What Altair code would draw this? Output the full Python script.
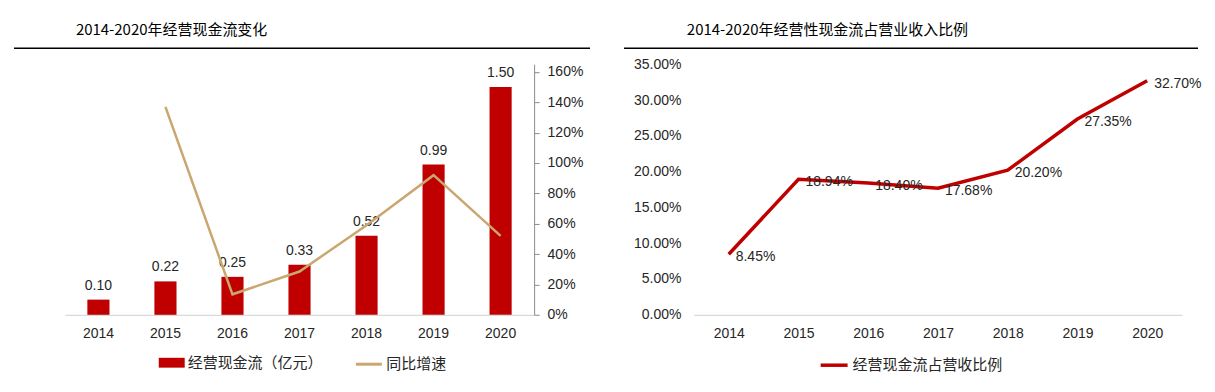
import altair as alt
import pandas as pd

# ---------------- data ----------------
years = ["2014", "2015", "2016", "2017", "2018", "2019", "2020"]
cash_flow = [0.10, 0.22, 0.25, 0.33, 0.52, 0.99, 1.50]          # 亿元
growth = [None, 1.37, 0.135, 0.285, 0.59, 0.92, 0.52]           # 同比增速
ratio = [0.0845, 0.1894, 0.1840, 0.1768, 0.2020, 0.2735, 0.3270]  # 占营收比例
left_ticks = [0.0, 0.2, 0.4, 0.6, 0.8, 1.0, 1.2, 1.4, 1.6]
growth_ticks = [0.0, 0.2, 0.4, 0.6, 0.8, 1.0, 1.2, 1.4, 1.6]
right_ticks = [0.0, 0.05, 0.10, 0.15, 0.20, 0.25, 0.30, 0.35]
bar_series = "经营现金流（亿元）"
growth_series = "同比增速"
ratio_series = "经营现金流占营收比例"
title_left = "2014-2020年经营现金流变化"
title_right = "2014-2020年经营性现金流占营业收入比例"

# ---------------- style ----------------
RED = "#C00000"
TAN = "#C9A76F"
TXT = "#262626"
FONT = "Liberation Sans, Noto Sans CJK SC, sans-serif"
CJK = "Noto Sans CJK SC, sans-serif"
LEFT_MAX = 1.6 * 251 / 243.3

left_df = pd.DataFrame({"year": years, "cash": cash_flow, "growth": growth})
left_df["s_bar"] = bar_series
left_df["s_line"] = growth_series

right_df = pd.DataFrame({"year": years, "ratio": ratio})
right_df["series"] = ratio_series

one = pd.DataFrame({"k": [0]})

x_axis = alt.Axis(title=None, labelAngle=0, ticks=False, tickSize=0, domainColor="#D9D9D9",
                  domainWidth=1.2, labelPadding=12, labelFontSize=14, labelColor=TXT, labelFont=FONT)


def legend(x, y, shape, size, stroke_width=0):
    return alt.Legend(
        title=None, orient="none", legendX=x, legendY=y, direction="horizontal",
        symbolType=shape, symbolSize=size, symbolStrokeWidth=stroke_width,
        labelFontSize=15, labelFont=CJK, labelColor=TXT, labelOffset=3,
    )


base = alt.Chart(left_df)
xl = alt.X("year:N", scale=alt.Scale(paddingInner=0.67, paddingOuter=0.335), axis=x_axis)

bars = base.mark_bar().encode(
    x=xl,
    y=alt.Y("cash:Q", scale=alt.Scale(domain=[0, LEFT_MAX], nice=False),
            axis=alt.Axis(title=None, values=left_ticks, format=".2f", grid=False, domain=False,
                          ticks=False, tickSize=0, labelPadding=13, labelFontSize=14,
                          labelColor=TXT, labelFont=FONT)),
    fill=alt.Fill("s_bar:N", scale=alt.Scale(domain=[bar_series], range=[RED]),
                  legend=legend(94, 286, "M-1,-0.38H1V0.38H-1Z", 676)),
)
bar_text = base.mark_text(baseline="bottom", dy=-7, fontSize=14, color=TXT, font=FONT).encode(
    x=xl,
    y=alt.Y("cash:Q", scale=alt.Scale(domain=[0, LEFT_MAX], nice=False), axis=None),
    text=alt.Text("cash:Q", format=".2f"),
)
line = base.mark_line(strokeWidth=2.5).encode(
    x=xl,
    y=alt.Y("growth:Q", scale=alt.Scale(domain=[0, LEFT_MAX], nice=False),
            axis=alt.Axis(title=None, orient="right", values=growth_ticks, format=".0%", grid=False,
                          domainColor="#8C8C8C", tickColor="#8C8C8C", tickSize=5, labelPadding=8,
                          labelFontSize=14, labelColor=TXT, labelFont=FONT)),
    stroke=alt.Stroke("s_line:N", scale=alt.Scale(domain=[growth_series], range=[TAN]),
                      legend=legend(290, 286, "stroke", 676, 3)),
)
rule_left = alt.Chart(one).mark_rule(color="black", strokeWidth=1.5).encode(
    x=alt.value(-51), x2=alt.value(526), y=alt.value(-16))

left = alt.layer(rule_left, alt.layer(bars, bar_text), line).resolve_scale(y="independent").properties(
    width=470, height=251,
    title=alt.TitleParams(title_left, anchor="start", frame="group", dx=11, offset=10,
                          fontSize=15, font=CJK, fontWeight="normal", color="black"),
)

# ---------------- right chart ----------------
rbase = alt.Chart(right_df)
xr = alt.X("year:N", axis=x_axis)
yr = alt.Y("ratio:Q", scale=alt.Scale(domain=[0, 0.35], nice=False),
           axis=alt.Axis(title=None, values=right_ticks, format=".2%", grid=False, domain=False,
                         ticks=False, tickSize=0, labelPadding=13, labelFontSize=14,
                         labelColor=TXT, labelFont=FONT))
rline = rbase.mark_line(strokeWidth=3.5).encode(
    x=xr, y=yr,
    stroke=alt.Stroke("series:N", scale=alt.Scale(domain=[ratio_series], range=[RED]),
                      legend=legend(125, 286, "stroke", 729, 3.5)),
)
rtext = rbase.mark_text(align="left", baseline="middle", dx=7, dy=3, fontSize=14, color=TXT, font=FONT).encode(
    x=xr, y=yr, text=alt.Text("ratio:Q", format=".2%"))
rule_right = alt.Chart(one).mark_rule(color="black", strokeWidth=1.5).encode(
    x=alt.value(-70), x2=alt.value(505), y=alt.value(-16))

right = alt.layer(rule_right, rline, rtext).properties(
    width=489, height=251,
    title=alt.TitleParams(title_right, anchor="start", frame="group", dx=-7, offset=10,
                          fontSize=15, font=CJK, fontWeight="normal", color="black"),
)

chart = alt.hconcat(left, right, spacing=32).resolve_scale(
    stroke="independent", fill="independent"
).resolve_legend(
    stroke="independent", fill="independent"
).properties(
    padding={"left": 5, "top": 14, "right": 5, "bottom": 5},
    background="white",
).configure_view(stroke=None)

chart.save("out.html", embed_options={"renderer": "svg", "actions": False})
